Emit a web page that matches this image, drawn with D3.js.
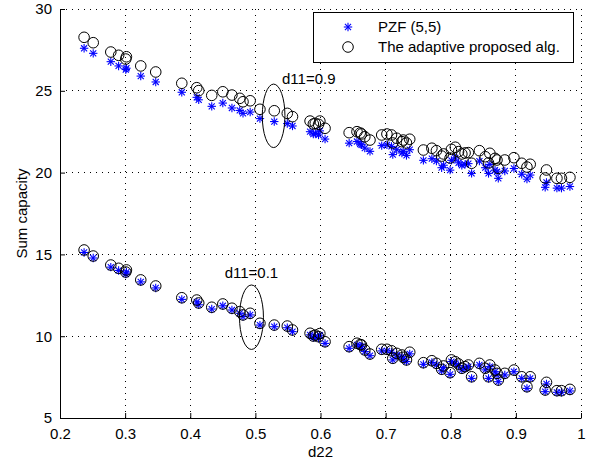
<!DOCTYPE html>
<html><head><meta charset="utf-8">
<script src="https://cdn.jsdelivr.net/npm/d3@7"></script>
<style>body{margin:0;background:#fff}svg{display:block}text{font-family:"Liberation Sans",Arial,sans-serif}</style>
</head><body><svg id="c" width="594" height="464"></svg>
<script>
const d22 = [0.237,0.251,0.278,0.290,0.302,0.301,0.324,0.347,0.387,0.410,0.413,0.433,0.450,0.464,0.476,0.481,0.492,0.507,0.529,0.549,0.557,0.584,0.589,0.592,0.597,0.599,0.607,0.644,0.656,0.661,0.663,0.668,0.676,0.694,0.702,0.709,0.717,0.711,0.725,0.727,0.732,0.737,0.758,0.771,0.778,0.786,0.789,0.799,0.801,0.807,0.812,0.817,0.822,0.827,0.832,0.844,0.853,0.858,0.860,0.868,0.871,0.873,0.883,0.897,0.909,0.917,0.922,0.947,0.945,0.963,0.970,0.983];
const adapt09 = [28.27,27.94,27.37,27.17,27.08,26.94,26.52,26.15,25.46,25.19,25.01,24.72,24.94,24.74,24.54,24.33,24.39,23.87,23.78,23.62,23.42,23.15,22.97,23.01,22.95,23.15,22.71,22.44,22.50,22.42,22.36,22.19,21.99,22.30,22.36,22.30,22.10,21.81,21.89,21.99,21.81,22.04,21.38,21.49,21.34,21.01,21.14,20.89,21.42,21.55,21.28,21.14,21.20,21.22,20.57,21.34,20.97,20.59,21.18,20.87,20.77,20.26,20.77,20.91,20.57,20.34,20.51,20.16,19.67,19.65,19.65,19.71];
const pzf09 = [27.60,27.29,26.78,26.52,26.38,26.30,25.90,25.54,24.91,24.60,24.45,24.05,24.25,23.95,23.80,23.62,23.70,23.30,23.12,23.00,22.85,22.50,22.35,22.40,22.30,22.55,22.05,21.80,21.90,21.75,21.70,21.50,21.30,21.65,21.70,21.60,21.40,21.10,21.20,21.30,21.05,21.40,20.75,20.85,20.70,20.30,20.45,20.15,20.75,20.90,20.60,20.45,20.50,20.55,19.95,20.70,20.30,19.95,20.50,20.15,20.05,19.65,20.10,20.25,19.90,19.60,19.85,19.40,19.10,19.05,19.05,19.15];
const adapt01 = [15.27,14.90,14.35,14.15,14.05,13.92,13.44,13.07,12.35,12.21,12.03,11.77,11.97,11.71,11.50,11.30,11.40,10.79,10.68,10.62,10.38,10.18,10.01,10.07,9.97,10.16,9.66,9.36,9.57,9.49,9.46,9.16,8.91,9.20,9.20,9.11,8.95,8.65,8.85,8.71,8.55,9.02,8.38,8.50,8.34,7.98,8.18,7.77,8.55,8.44,8.30,8.04,8.14,8.24,7.52,8.34,8.04,7.52,8.24,7.93,7.73,7.32,7.73,7.93,7.52,6.91,7.52,7.18,6.71,6.67,6.67,6.75];
const pzf01 = [15.12,14.78,14.22,14.02,13.92,13.80,13.32,12.95,12.25,12.10,11.92,11.66,11.86,11.60,11.40,11.20,11.30,10.68,10.58,10.52,10.28,10.08,9.91,9.97,9.87,10.06,9.56,9.26,9.47,9.39,9.36,9.06,8.81,9.10,9.10,9.01,8.85,8.55,8.75,8.61,8.45,8.92,8.28,8.40,8.24,7.88,8.08,7.67,8.45,8.34,8.20,7.94,8.04,8.14,7.42,8.24,7.94,7.42,8.14,7.83,7.63,7.22,7.63,7.83,7.42,6.81,7.42,7.08,6.61,6.57,6.57,6.65];
const xTicks = [0.2,0.3,0.4,0.5,0.6,0.7,0.8,0.9,1];
const yTicks = [5,10,15,20,25,30];
const legendLabels = ["PZF (5,5)","The adaptive proposed alg."];
const annotLabels = ["d11=0.9","d11=0.1"];
const annotText = [[0.582,25.42],[0.494,13.56]];
const ellipseCenter = [[0.528,23.47],[0.494,11.16]];
const ellipseRadius = [[0.0174,1.94],[0.0184,1.97]];

const svg = d3.select("#c");
const L=60,R=581,T=9,B=418;
const x = d3.scaleLinear().domain([0.2,1]).range([L,R]);
const y = d3.scaleLinear().domain([5,30]).range([B,T]);

// grid
const g = svg.append("g");
g.selectAll("line.gx").data(xTicks.slice(1)).join("line")
  .attr("x1",d=>x(d)).attr("x2",d=>x(d)).attr("y1",B).attr("y2",T)
  .attr("stroke","#000").attr("stroke-width",1).attr("stroke-dasharray","1,5").attr("shape-rendering","crispEdges");
g.selectAll("line.gy").data(yTicks.slice(1)).join("line")
  .attr("y1",d=>y(d)).attr("y2",d=>y(d)).attr("x1",L).attr("x2",R)
  .attr("stroke","#000").attr("stroke-width",1).attr("stroke-dasharray","1,5").attr("shape-rendering","crispEdges");

// axes
const xAxis = d3.axisBottom(x).tickValues(xTicks).tickFormat(d=>d===1?"1":d3.format(".1f")(d)).tickSizeInner(-5).tickSizeOuter(0).tickPadding(10);
const yAxis = d3.axisLeft(y).tickValues(yTicks).tickSizeInner(-5).tickSizeOuter(0).tickPadding(10);
const gx = svg.append("g").attr("transform",`translate(0,${B})`).call(xAxis);
const gy = svg.append("g").attr("transform",`translate(${L},0)`).call(yAxis);
[gx,gy].forEach(a=>{
  a.selectAll("text").attr("font-size",15).attr("fill","#000").attr("font-family","Liberation Sans, Arial, sans-serif");
  a.selectAll("line").attr("stroke","#000");
  a.select(".domain").attr("stroke","#000");
});
gy.selectAll("text").attr("dx",2);

svg.append("text").attr("x",(L+R)/2).attr("y",457).attr("text-anchor","middle").attr("font-size",15).text("d22");
svg.append("text").attr("transform",`translate(27,${(T+B)/2}) rotate(-90)`).attr("text-anchor","middle").attr("font-size",15).text("Sum capacity");

// markers
function star(sel, s){
  const a = s*0.72;
  sel.append("line").attr("x1",-s).attr("x2",s).attr("y1",0).attr("y2",0);
  sel.append("line").attr("x1",0).attr("x2",0).attr("y1",-s).attr("y2",s);
  sel.append("line").attr("x1",-a).attr("x2",a).attr("y1",-a).attr("y2",a);
  sel.append("line").attr("x1",-a).attr("x2",a).attr("y1",a).attr("y2",-a);
}
function drawStars(vals){
  const sg = svg.append("g").attr("stroke","#0000ff").attr("stroke-width",1.1);
  vals.forEach((v,i)=>{
    const m = sg.append("g").attr("transform",`translate(${x(d22[i])},${y(v)})`);
    star(m,4.2);
  });
}
function drawCircles(vals){
  svg.append("g").selectAll("circle").data(vals).join("circle")
    .attr("cx",(d,i)=>x(d22[i])).attr("cy",d=>y(d)).attr("r",5.3)
    .attr("fill","none").attr("stroke","#000").attr("stroke-width",1);
}
drawStars(pzf09); drawCircles(adapt09);
drawStars(pzf01); drawCircles(adapt01);

// ellipses + annotations
ellipseCenter.forEach((c,i)=>{
  svg.append("ellipse").attr("cx",x(c[0])).attr("cy",y(c[1]))
    .attr("rx",x(c[0]+ellipseRadius[i][0])-x(c[0])).attr("ry",y(c[1]-ellipseRadius[i][1])-y(c[1]))
    .attr("fill","none").attr("stroke","#000").attr("stroke-width",1);
});
annotLabels.forEach((t,i)=>{
  svg.append("text").attr("x",x(annotText[i][0])).attr("y",y(annotText[i][1])).attr("text-anchor","middle").attr("font-size",15).text(t);
});

// legend
const lg = svg.append("g");
lg.append("rect").attr("x",313.5).attr("y",12.5).attr("width",260).attr("height",50).attr("fill","#fff").attr("stroke","#000").attr("stroke-width",1);
const rows=[27,47];
const s0 = lg.append("g").attr("transform",`translate(348,${rows[0]})`).attr("stroke","#0000ff").attr("stroke-width",1.1);
star(s0,4.2);
lg.append("circle").attr("cx",348).attr("cy",rows[1]).attr("r",5.3).attr("fill","none").attr("stroke","#000");
legendLabels.forEach((t,i)=>{
  lg.append("text").attr("x",378).attr("y",rows[i]).attr("dy","0.35em").attr("font-size",15).text(t);
});
</script></body></html>
